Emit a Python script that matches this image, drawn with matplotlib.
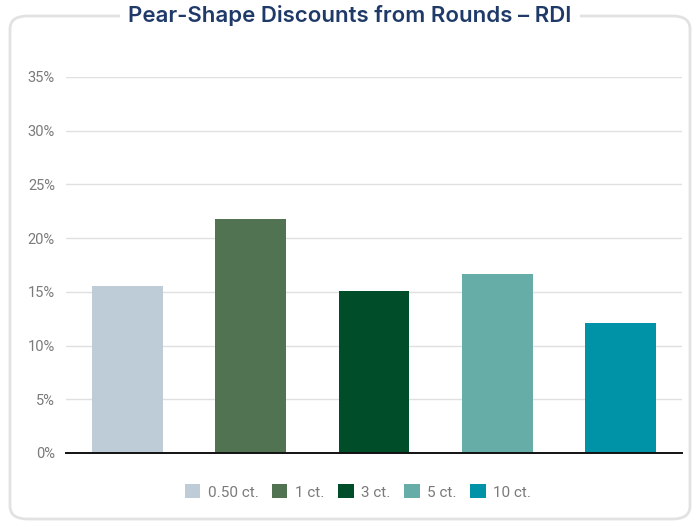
import matplotlib
matplotlib.use('Agg')
from matplotlib import pyplot as plt
from matplotlib.patches import FancyBboxPatch, Patch

# data
sizes = ['0.50 ct.', '1 ct.', '3 ct.', '5 ct.', '10 ct.']
discounts = [15.5, 21.8, 15.1, 16.7, 12.1]
colors = ['#BDCCD6', '#527352', '#004D2A', '#66ADA8', '#0093A8']
yticks = [0, 5, 10, 15, 20, 25, 30, 35]

tick_font = ['Liberation Sans Narrow', 'Roboto', 'DejaVu Sans']

fig = plt.figure(figsize=(6.96, 5.23), dpi=100)

# rounded frame around everything
frame = FancyBboxPatch((10 / 696, 4 / 523), 680 / 696, 503 / 523,
                       boxstyle='round,pad=0,rounding_size=0.025',
                       transform=fig.transFigure, facecolor='none',
                       edgecolor='#E2E2E2', linewidth=2, zorder=0)
fig.patches.append(frame)

ax = fig.add_axes([66 / 696, 70 / 523, 616 / 696, 376 / 523])
x = range(len(sizes))
ax.bar(x, discounts, width=0.576, color=colors, zorder=3)

ax.set_xlim(-0.5, len(sizes) - 0.5)
ax.set_ylim(0, 35)
ax.set_yticks(yticks)
ax.set_yticklabels([f'{v}%' for v in yticks], family=tick_font,
                   fontsize=10.5, color='#7A7A7A')
ax.set_xticks([])
ax.tick_params(axis='y', length=0, pad=8)
ax.grid(axis='y', color='#E0E0E0', linewidth=1, zorder=0)
for side in ['top', 'right', 'left']:
    ax.spines[side].set_visible(False)
ax.spines['bottom'].set_color('#111111')
ax.spines['bottom'].set_linewidth(1.4)
ax.spines['bottom'].set_zorder(4)

# title sits on the frame line
fig.text(350 / 696, 1 - 16 / 523, 'Pear-Shape Discounts from Rounds \u2013 RDI',
         ha='center', va='center', fontsize=16, fontweight='semibold',
         family=['Inter', 'Open Sans', 'DejaVu Sans'], color='#1F3A68',
         bbox=dict(facecolor='white', edgecolor='none', pad=6))

handles = [Patch(facecolor=c, label=s) for c, s in zip(colors, sizes)]
leg = fig.legend(handles=handles, loc='center', bbox_to_anchor=(358 / 696, 1 - 492 / 523),
                 ncol=5, frameon=False, handlelength=1.0, handleheight=1.0,
                 handletextpad=0.5, columnspacing=0.9,
                 prop={'family': tick_font, 'size': 11})
for t in leg.get_texts():
    t.set_color('#7A7A7A')

fig.savefig('out.png', dpi=100)
